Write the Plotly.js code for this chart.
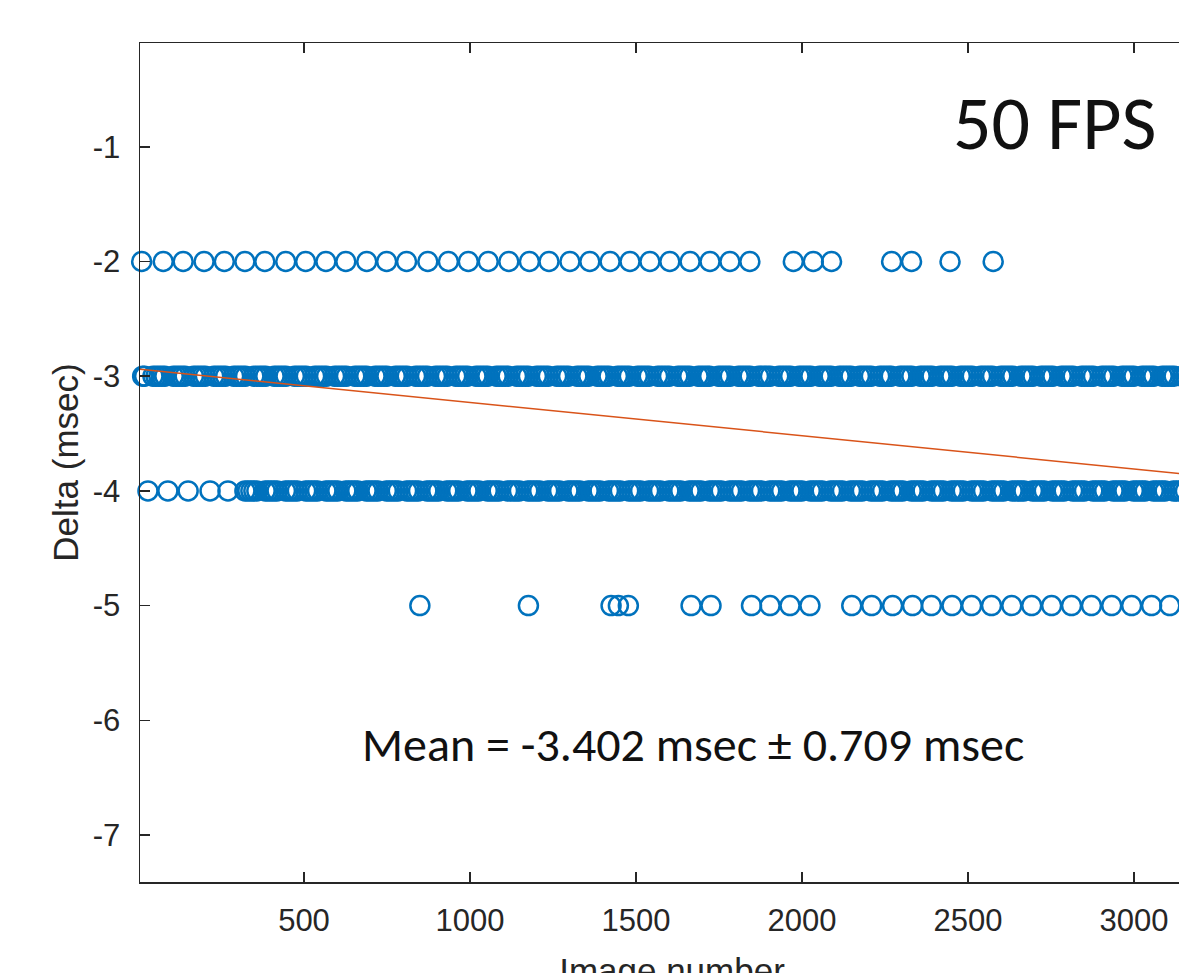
<!DOCTYPE html>
<html>
<head>
<meta charset="utf-8">
<script src="https://cdn.plot.ly/plotly-3.0.1.min.js"></script>
<style>
html, body { margin: 0; padding: 0; overflow: hidden; background: #ffffff; }
#chart { width: 1204px; height: 1010px; }
</style>
</head>
<body>
<div id="chart"></div>
<script>
// Image numbers at which each delta value (msec) occurs
const deltaLevels = [-2, -3, -4, -5];

const framesMinus2 = [11, 76, 136, 199, 260, 322, 382, 445, 505, 566, 626, 689, 749, 809, 873, 935, 995,
  1055, 1117, 1179, 1238, 1301, 1361, 1422, 1482, 1542, 1602, 1663, 1723, 1783, 1843, 1974, 2034, 2089,
  2270, 2330, 2446, 2576];

const framesMinus3 = [5, 14, 20,
  45, 54, 63, 72, 81, 106, 115, 124, 133, 142, 167, 176, 185, 194, 203, 228, 237, 246, 255, 264,
  288, 297, 306, 315, 324, 349, 358, 367, 376, 385, 410, 419, 428, 437, 446, 471, 480, 489, 498, 507,
  532, 541, 550, 559, 568, 592, 601, 610, 619, 628, 653, 662, 671, 680, 689, 714, 723, 732, 741, 750,
  775, 784, 793, 802, 811, 836, 845, 854, 863, 872, 896, 905, 914, 923, 932, 957, 966, 975, 984, 993,
  1018, 1027, 1036, 1045, 1054, 1079, 1088, 1097, 1106, 1115, 1140, 1149, 1158, 1167, 1176,
  1200, 1209, 1218, 1227, 1236, 1261, 1270, 1279, 1288, 1297, 1322, 1331, 1340, 1349, 1358,
  1383, 1392, 1401, 1410, 1419, 1444, 1453, 1462, 1471, 1480, 1504, 1513, 1522, 1531, 1540,
  1565, 1574, 1583, 1592, 1601, 1626, 1635, 1644, 1653, 1662, 1687, 1696, 1705, 1714, 1722,
  1748, 1757, 1766, 1775, 1784, 1808, 1817, 1826, 1835, 1844, 1869, 1878, 1887, 1896, 1905,
  1930, 1939, 1948, 1957, 1966, 1991, 2000, 2009, 2018, 2027, 2052, 2061, 2070, 2079, 2088,
  2112, 2121, 2130, 2139, 2148, 2173, 2182, 2191, 2200, 2209, 2234, 2243, 2252, 2261, 2269,
  2295, 2304, 2313, 2322, 2331, 2356, 2365, 2374, 2383, 2392, 2416, 2425, 2434, 2443, 2452,
  2477, 2486, 2495, 2504, 2513, 2538, 2547, 2556, 2565, 2574, 2599, 2608, 2617, 2626, 2635,
  2660, 2669, 2678, 2687, 2696, 2720, 2729, 2738, 2747, 2756, 2781, 2790, 2799, 2808, 2817,
  2842, 2851, 2860, 2869, 2878, 2903, 2912, 2921, 2930, 2939, 2964, 2973, 2982, 2991, 3000,
  3024, 3033, 3042, 3051, 3060, 3085, 3094, 3103, 3112, 3121, 3146, 3155, 3164, 3173, 3182];

const framesMinus4 = [30, 90, 151, 217, 271,
  322, 331, 340, 349, 358, 383, 392, 401, 410, 419, 444, 453, 462, 471, 480, 505, 514, 523, 532, 541,
  566, 575, 584, 593, 602, 626, 635, 644, 653, 662, 687, 696, 705, 714, 723, 748, 757, 766, 775, 784,
  809, 818, 827, 836, 845, 870, 879, 888, 897, 906, 930, 939, 948, 957, 966, 991, 1000, 1009, 1018, 1027,
  1052, 1061, 1070, 1079, 1088, 1113, 1122, 1131, 1140, 1149, 1174, 1183, 1192, 1201, 1210,
  1234, 1243, 1252, 1261, 1270, 1295, 1304, 1313, 1322, 1331, 1356, 1365, 1374, 1383, 1392,
  1417, 1426, 1435, 1444, 1453, 1478, 1487, 1496, 1505, 1514, 1538, 1547, 1556, 1565, 1574,
  1599, 1608, 1617, 1626, 1635, 1660, 1669, 1678, 1687, 1696, 1721, 1730, 1739, 1748, 1757,
  1782, 1791, 1800, 1809, 1818, 1842, 1851, 1860, 1869, 1878, 1903, 1912, 1921, 1930, 1939,
  1964, 1973, 1982, 1991, 2000, 2025, 2034, 2043, 2052, 2061, 2086, 2095, 2104, 2113, 2122,
  2146, 2155, 2164, 2173, 2182, 2207, 2216, 2225, 2234, 2243, 2268, 2277, 2286, 2295, 2304,
  2329, 2338, 2347, 2356, 2365, 2390, 2399, 2408, 2417, 2426, 2450, 2459, 2468, 2477, 2486,
  2511, 2520, 2529, 2538, 2547, 2572, 2581, 2590, 2599, 2608, 2633, 2642, 2651, 2660, 2669,
  2694, 2703, 2712, 2721, 2730, 2754, 2763, 2772, 2781, 2790, 2815, 2824, 2833, 2842, 2851,
  2876, 2885, 2894, 2903, 2912, 2937, 2946, 2955, 2964, 2973, 2998, 3007, 3016, 3025, 3034,
  3058, 3067, 3076, 3085, 3094, 3119, 3128, 3137, 3146, 3155];

const framesMinus5 = [849, 1176, 1425, 1447, 1477, 1666, 1726, 1848, 1904, 1964, 2024, 2150, 2210, 2273,
  2333, 2390, 2452, 2511, 2571, 2632, 2692, 2752, 2812, 2872, 2933, 2993, 3053, 3108];

// Linear fit line (image number -> delta msec)
const fitFrames = [6, 3211];
const fitDelta = [-2.94, -3.87];

// Tick labels
const xTicks = [500, 1000, 1500, 2000, 2500, 3000];
const yTicks = [-7, -6, -5, -4, -3, -2, -1];

const meanText = 'Mean = -3.402 msec \u00B1 0.709 msec';
const fpsText = '50 FPS';

const rows = [framesMinus2, framesMinus3, framesMinus4, framesMinus5];
const blue = '#0072BD';
const traces = rows.map((frames, i) => ({
  type: 'scatter',
  mode: 'markers',
  x: frames,
  y: frames.map(() => deltaLevels[i]),
  cliponaxis: false,
  marker: { symbol: 'circle-open', size: 19, color: blue, line: { color: blue, width: 2.5 } },
  hoverinfo: 'x+y'
}));
traces.push({
  type: 'scatter',
  mode: 'lines',
  x: fitFrames,
  y: fitDelta,
  line: { color: '#D95319', width: 1.5 },
  hoverinfo: 'x+y'
});

const axisColor = '#262626';
const tickFont = { family: 'Liberation Sans, Arial, sans-serif', size: 31, color: axisColor };
const layout = {
  width: 1204,
  height: 1010,
  margin: { l: 140, r: 0, t: 43, b: 128 },
  paper_bgcolor: '#ffffff',
  plot_bgcolor: '#ffffff',
  showlegend: false,
  xaxis: {
    range: [6, 3211],
    tickvals: xTicks,
    ticktext: xTicks.map(String),
    ticks: 'inside', ticklen: 10, tickwidth: 1.5, tickcolor: axisColor,
    showline: true, linecolor: axisColor, linewidth: 1.5, mirror: 'ticks',
    showgrid: false, zeroline: false,
    tickfont: tickFont,
    ticklabelstandoff: 10,
    title: { text: 'Image number', font: { family: 'Liberation Sans, Arial, sans-serif', size: 35, color: axisColor }, standoff: 22 }
  },
  yaxis: {
    range: [-7.41, -0.095],
    tickvals: yTicks,
    ticktext: yTicks.map(String),
    ticks: 'inside', ticklen: 10, tickwidth: 1.5, tickcolor: axisColor,
    showline: true, linecolor: axisColor, linewidth: 1.5, mirror: 'ticks',
    showgrid: false, zeroline: false,
    tickfont: tickFont,
    ticklabelstandoff: 12,
    title: { text: 'Delta (msec)', font: { family: 'Liberation Sans, Arial, sans-serif', size: 35, color: axisColor }, standoff: 3 }
  },
  annotations: [
    { xref: 'x', yref: 'y', x: 2762, y: -0.79, text: fpsText, showarrow: false,
      xanchor: 'center', yanchor: 'middle',
      font: { family: 'Carlito, Open Sans, sans-serif', size: 76, color: '#111111' } },
    { xref: 'x', yref: 'y', x: 1672, y: -6.215, text: meanText, showarrow: false,
      xanchor: 'center', yanchor: 'middle',
      font: { family: 'Carlito, Open Sans, sans-serif', size: 48, color: '#111111' } }
  ]
};

Plotly.newPlot('chart', traces, layout, { staticPlot: true, displayModeBar: false });
</script>
</body>
</html>
